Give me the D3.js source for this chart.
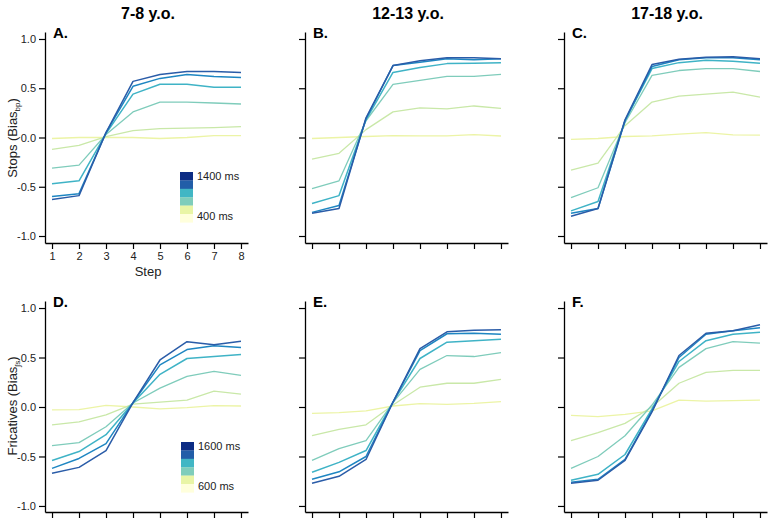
<!DOCTYPE html>
<html><head><meta charset="utf-8">
<script src="https://cdn.jsdelivr.net/npm/d3@7"></script>
<style>body{margin:0;background:#fff}svg{display:block;font-family:"Liberation Sans",Arial,sans-serif}</style>
</head><body><svg id="c" width="774" height="524"></svg>
<script>
const steps = [1,2,3,4,5,6,7,8];
const yTicks = [-1, -0.5, 0, 0.5, 1];
const yTickLabels = ["-1.0","-0.5","0.0","0.5","1.0"];
const ageGroups = ["7-8 y.o.","12-13 y.o.","17-18 y.o."];
const panelLetters = ["A.","B.","C.","D.","E.","F."];
const lineColors = ["#2a5ca8","#1e86c2","#3fb3c6","#7fccbb","#c9e8a8","#ecf4a6"];
const legendColors = ["#0c2c84","#225ea8","#41b6c4","#7fcdbb","#e9f5a6","#ffffdc"];
const stopLegend = ["1400 ms","400 ms"];
const fricLegend = ["1600 ms","600 ms"];
// series order: longest window (darkest) to shortest (palest)
const stops78 = [
  [-0.63,-0.59,0.05,0.57,0.64,0.67,0.67,0.66],
  [-0.60,-0.57,0.05,0.52,0.60,0.64,0.62,0.61],
  [-0.47,-0.44,0.04,0.44,0.54,0.54,0.51,0.51],
  [-0.31,-0.28,0.03,0.26,0.36,0.36,0.35,0.34],
  [-0.12,-0.08,0.01,0.07,0.09,0.095,0.10,0.11],
  [-0.01,0.00,0.00,0.00,-0.01,0.00,0.02,0.02]
];
const stops1213 = [
  [-0.77,-0.72,0.20,0.73,0.78,0.81,0.81,0.80],
  [-0.76,-0.69,0.19,0.73,0.765,0.80,0.79,0.80],
  [-0.67,-0.59,0.18,0.66,0.71,0.75,0.755,0.76],
  [-0.52,-0.44,0.17,0.54,0.58,0.62,0.62,0.64],
  [-0.22,-0.16,0.08,0.26,0.30,0.29,0.32,0.295],
  [-0.01,0.00,0.01,0.02,0.017,0.017,0.03,0.015]
];
const stops1718 = [
  [-0.80,-0.72,0.18,0.74,0.795,0.815,0.82,0.80],
  [-0.77,-0.72,0.17,0.72,0.79,0.81,0.81,0.79],
  [-0.745,-0.65,0.17,0.70,0.76,0.785,0.775,0.755],
  [-0.61,-0.51,0.15,0.63,0.68,0.70,0.70,0.67],
  [-0.33,-0.26,0.12,0.36,0.42,0.44,0.46,0.41],
  [-0.02,-0.01,0.01,0.017,0.034,0.05,0.027,0.024]
];
const fric78 = [
  [-0.67,-0.61,-0.44,0.045,0.475,0.66,0.63,0.665],
  [-0.62,-0.52,-0.37,0.045,0.425,0.58,0.62,0.60],
  [-0.54,-0.45,-0.28,0.04,0.33,0.49,0.51,0.53],
  [-0.39,-0.36,-0.20,0.04,0.19,0.31,0.36,0.32],
  [-0.18,-0.15,-0.08,0.03,0.05,0.07,0.16,0.13],
  [-0.03,-0.027,0.017,0.00,-0.02,-0.007,0.013,0.01]
];
const fric1213 = [
  [-0.77,-0.70,-0.53,0.05,0.59,0.76,0.775,0.78],
  [-0.73,-0.655,-0.50,0.05,0.57,0.74,0.745,0.735],
  [-0.66,-0.56,-0.44,0.05,0.49,0.655,0.67,0.685],
  [-0.54,-0.42,-0.34,0.045,0.38,0.52,0.51,0.55],
  [-0.29,-0.226,-0.18,0.02,0.20,0.24,0.24,0.28],
  [-0.064,-0.057,-0.04,0.01,0.034,0.027,0.037,0.054]
];
const fric1718 = [
  [-0.77,-0.74,-0.54,-0.05,0.52,0.745,0.77,0.83],
  [-0.76,-0.73,-0.53,-0.04,0.50,0.735,0.77,0.80],
  [-0.74,-0.68,-0.48,-0.02,0.46,0.67,0.735,0.755],
  [-0.62,-0.50,-0.29,0.02,0.40,0.59,0.66,0.645],
  [-0.34,-0.26,-0.165,0.00,0.24,0.35,0.37,0.37],
  [-0.084,-0.098,-0.074,-0.04,0.07,0.06,0.064,0.07]
];
const panelData = [stops78, stops1213, stops1718, fric78, fric1213, fric1718];

const svg = d3.select("#c");
const colX = [45, 305, 564];
const axW = 203;
const rows = [{top:32, bottom:243, dom:[-1.071,1.071]}, {top:301, bottom:512, dom:[-1.061,1.071]}];

// Titles
ageGroups.forEach((t,i)=>{
  svg.append("text").attr("x", colX[i]+103).attr("y", 19).attr("text-anchor","middle")
    .attr("font-size", 16).attr("font-weight","bold").attr("fill","#000").text(t);
});

panelData.forEach((series, p)=>{
  const r = Math.floor(p/3), c = p%3;
  const R = rows[r];
  const x = d3.scaleLinear().domain([0.74, 8.26]).range([colX[c], colX[c]+axW]);
  const y = d3.scaleLinear().domain(R.dom).range([R.bottom, R.top]);
  const g = svg.append("g");
  // y axis
  const ya = d3.axisLeft(y).tickValues(yTicks).tickSize(6).tickSizeOuter(0)
    .tickFormat((d,i)=> c===0 ? yTickLabels[i] : "");
  const yg = g.append("g").attr("transform",`translate(${colX[c]},0)`).call(ya);
  // x axis
  const xa = d3.axisBottom(x).tickValues(steps).tickSize(6).tickSizeOuter(0)
    .tickFormat(d=> p===0 ? String(d) : "");
  const xg = g.append("g").attr("transform",`translate(0,${R.bottom})`).call(xa);
  [yg,xg].forEach(a=>{
    a.select(".domain").attr("stroke","#000").attr("stroke-width",1.3);
    a.selectAll(".tick line").attr("stroke","#000").attr("stroke-width",1.2);
    a.selectAll(".tick text").attr("font-size",11).attr("fill","#222")
      .attr("font-family","'Liberation Sans',Arial,sans-serif");
  });
  yg.selectAll(".tick text").attr("x",-9);
  xg.selectAll(".tick text").attr("y",9);
  // lines, palest first
  const line = d3.line().x((d,i)=>x(steps[i])).y(d=>y(d));
  for (let k = series.length-1; k>=0; k--) {
    g.append("path").datum(series[k]).attr("d", line).attr("fill","none")
      .attr("stroke", lineColors[k]).attr("stroke-width", k<3?1.5:1.3)
      .attr("stroke-linejoin","round");
  }
  // panel letter
  g.append("text").attr("x", colX[c]+8).attr("y", R.top+6).attr("font-size",15)
    .attr("font-weight","bold").attr("fill","#000").text(panelLetters[p]);
  // legend
  if (c===0) {
    const top = r===0 ? 172 : 442;
    const lx = r===0 ? 180 : 181;
    legendColors.forEach((col,i)=>{
      g.append("rect").attr("x",lx).attr("y",top+i*8.4).attr("width",13).attr("height",8.6).attr("fill",col);
    });
    const labs = r===0 ? stopLegend : fricLegend;
    g.append("text").attr("x",lx+17).attr("y",top+8).attr("font-size",11).attr("fill","#222").text(labs[0]);
    g.append("text").attr("x",lx+17).attr("y",top+48).attr("font-size",11).attr("fill","#222").text(labs[1]);
  }
});

// axis labels
svg.append("text").attr("x",148).attr("y",276).attr("text-anchor","middle").attr("font-size",13).attr("fill","#222").text("Step");
const yl1 = svg.append("text").attr("transform","translate(17,138) rotate(-90)").attr("text-anchor","middle")
  .attr("font-size",13).attr("fill","#222");
yl1.append("tspan").text("Stops (Bias");
yl1.append("tspan").attr("font-size",8).attr("dy",3).text("bp");
yl1.append("tspan").attr("dy",-3).text(")");
const yl2 = svg.append("text").attr("transform","translate(17,406) rotate(-90)").attr("text-anchor","middle")
  .attr("font-size",13).attr("fill","#222");
yl2.append("tspan").text("Fricatives (Bias");
yl2.append("tspan").attr("font-size",8).attr("dy",3).text("ʃs");
yl2.append("tspan").attr("dy",-3).text(")");
</script></body></html>
